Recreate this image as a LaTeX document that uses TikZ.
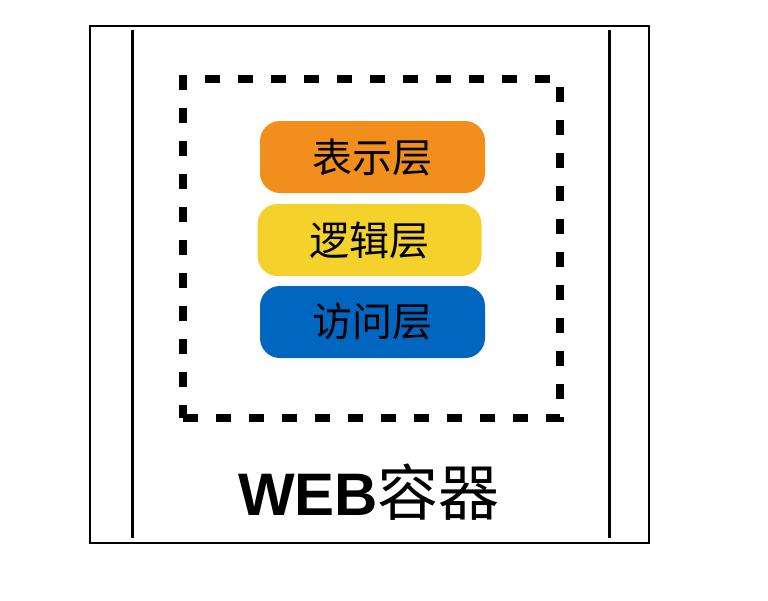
\documentclass[tikz,border=0pt]{standalone}
\usepackage{fontspec}
\newfontfamily\cjk{Noto Sans CJK SC}
\newfontfamily\lsans{Liberation Sans}
\definecolor{layerorange}{HTML}{F28E1C}
\definecolor{layeryellow}{HTML}{F5D22B}
\definecolor{layerblue}{HTML}{0066C0}
\begin{document}
\begin{tikzpicture}[x=1pt,y=-1pt,
  layerbox/.style={rounded corners=20pt, minimum width=225pt, minimum height=72pt, inner sep=0pt,
     font=\cjk\fontsize{40}{41}\selectfont, text=black},
  vline/.style={line width=3pt}]
\useasboundingbox (0,0) rectangle (768,600);
\node[draw, line width=1.4pt, minimum width=559pt, minimum height=517pt, inner sep=0pt] (outer) at (369.5,284.5) {};
\coordinate (l1) at (132,30); \coordinate (l2) at (132,538);
\coordinate (r1) at (609,30); \coordinate (r2) at (609,538);
\draw[vline] (l1) -- (l2);
\draw[vline] (r1) -- (r2);
\node[draw, line width=8pt, dash pattern=on 15pt off 18pt, minimum width=377pt, minimum height=339pt, inner sep=0pt] (inner) at (371.5,248.5) {};
\node[layerbox, fill=layerorange] (pres) at (372.5,157) {表示层};
\node[layerbox, fill=layeryellow, minimum width=224pt] (logic) at (369.5,240) {逻辑层};
\node[layerbox, fill=layerblue] (access) at (372.5,322) {访问层};
\node[anchor=base, inner sep=0pt] (web) at (369,515) {{\lsans\bfseries\fontsize{60}{62}\selectfont WEB}{\cjk\fontsize{61}{62}\selectfont 容器}};
\end{tikzpicture}
\end{document}
